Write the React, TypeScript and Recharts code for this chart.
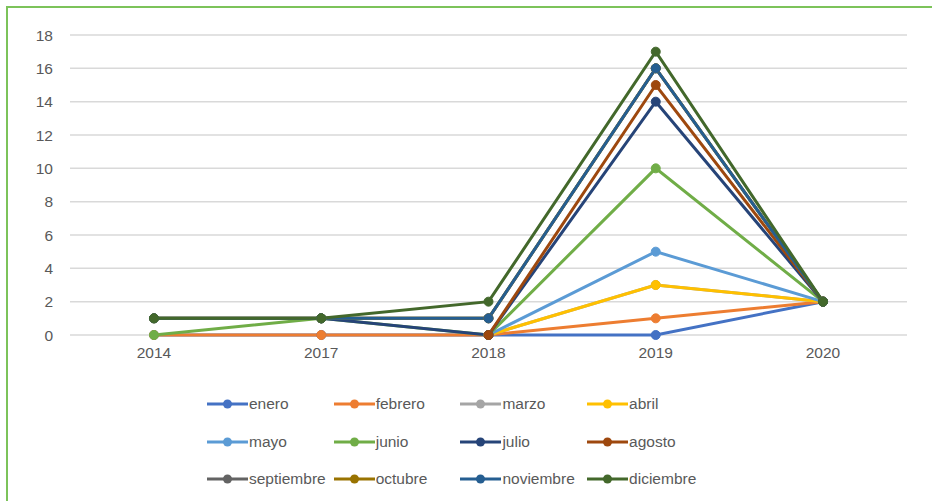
import { LineChart, Line, XAxis, YAxis, CartesianGrid } from 'recharts'

const years = ['2014', '2017', '2018', '2019', '2020']

const enero = [0, 0, 0, 0, 2]
const febrero = [0, 0, 0, 1, 2]
const marzo = [null, null, 0, 3, 2]
const abril = [null, null, 0, 3, 2]
const mayo = [null, null, 0, 5, 2]
const junio = [0, 1, 0, 10, 2]
const julio = [null, 1, 0, 14, 2]
const agosto = [null, null, 0, 15, 2]
const septiembre = [1, 1, 1, 16, 2]
const octubre = [1, 1, 1, 16, 2]
const noviembre = [1, 1, 1, 16, 2]
const diciembre = [1, 1, 2, 17, 2]

const yTicks = [0, 2, 4, 6, 8, 10, 12, 14, 16, 18]

const series = [
  { key: 'enero', values: enero, color: '#4472c4' },
  { key: 'febrero', values: febrero, color: '#ed7d31' },
  { key: 'marzo', values: marzo, color: '#a5a5a5' },
  { key: 'abril', values: abril, color: '#ffc000' },
  { key: 'mayo', values: mayo, color: '#5b9bd5' },
  { key: 'junio', values: junio, color: '#70ad47' },
  { key: 'julio', values: julio, color: '#264478' },
  { key: 'agosto', values: agosto, color: '#9e480e' },
  { key: 'septiembre', values: septiembre, color: '#636363' },
  { key: 'octubre', values: octubre, color: '#997300' },
  { key: 'noviembre', values: noviembre, color: '#255e91' },
  { key: 'diciembre', values: diciembre, color: '#43682b' },
]

const data = years.map((year, i) => {
  const row: Record<string, string | number | null> = { year }
  series.forEach((s) => {
    row[s.key] = s.values[i]
  })
  return row
})

const font = '"Liberation Sans", Arial, sans-serif'
const textColor = '#595959'

function LegendGrid() {
  // 4 columns x 3 rows, like the Excel legend
  return (
    <div style={{ position: 'absolute', left: 207, top: 393, width: 520 }}>
      {series.map((s, i) => {
        const col = i % 4
        const row = Math.floor(i / 4)
        return (
          <div
            key={s.key}
            style={{
              position: 'absolute',
              left: col * 126.7,
              top: row * 37.5,
              height: 22,
              display: 'flex',
              alignItems: 'center',
              whiteSpace: 'nowrap',
            }}
          >
            <svg width={41} height={22}>
              <line x1={0} y1={11} x2={41} y2={11} stroke={s.color} strokeWidth={3} />
              <circle cx={20.5} cy={11} r={4.5} fill={s.color} />
            </svg>
            <span style={{ fontFamily: font, fontSize: 15.5, color: textColor, marginLeft: 1 }}>
              {s.key}
            </span>
          </div>
        )
      })}
    </div>
  )
}

export default function App() {
  return (
    <div
      style={{
        position: 'absolute',
        left: 0,
        top: 0,
        width: 932,
        height: 501,
        background: '#fff',
        overflow: 'hidden',
      }}
    >
      <div style={{ position: 'absolute', left: 6, top: 6, width: 926, height: 2, background: '#7cc35a' }} />
      <div style={{ position: 'absolute', left: 6, top: 6, width: 2, height: 495, background: '#7cc35a' }} />
      <LineChart
        width={932}
        height={501}
        data={data}
        margin={{ top: 35, right: 25, left: 0, bottom: 136 }}
      >
        <CartesianGrid vertical={false} stroke="#d9d9d9" strokeWidth={1.5} />
        <XAxis
          dataKey="year"
          axisLine={false}
          tickLine={false}
          padding={{ left: 84, right: 84 }}
          height={30}
          tickMargin={6}
          tick={{ fill: textColor, fontSize: 15.5, fontFamily: font }}
        />
        <YAxis
          width={70}
          domain={[0, 18]}
          ticks={yTicks}
          axisLine={false}
          tickLine={false}
          tickMargin={11}
          tick={{ fill: textColor, fontSize: 15.5, fontFamily: font }}
        />
        {series.map((s) => (
          <Line
            key={s.key}
            type="linear"
            dataKey={s.key}
            stroke={s.color}
            strokeWidth={3}
            dot={{ r: 4.5, fill: s.color, stroke: s.color, strokeWidth: 1 }}
            isAnimationActive={false}
          />
        ))}
      </LineChart>
      <LegendGrid />
    </div>
  )
}
